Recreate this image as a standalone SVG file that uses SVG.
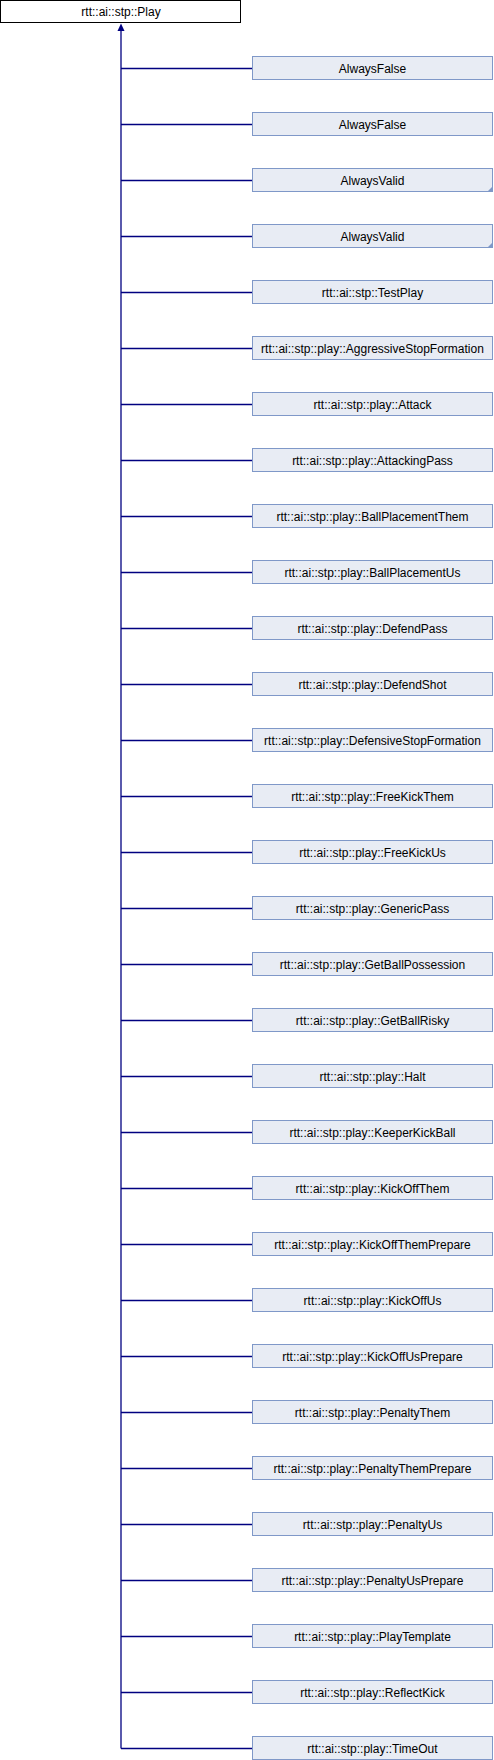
<svg xmlns="http://www.w3.org/2000/svg" width="494" height="1760" viewBox="0 0 494 1760">
<style>
.n rect{fill:#e8ecf4;stroke:#7f98c8;stroke-width:1}
.root rect{fill:#ffffff;stroke:#000000;stroke-width:1}
text{font-family:"Liberation Sans",Arial,sans-serif;font-size:12px;fill:#000;text-anchor:middle}
.e{fill:none;stroke:#000080;stroke-width:1.3}
.fold{fill:#7f98c8}
</style>
<rect width="494" height="1760" fill="#ffffff"/>
<g id="connectors">
<path class="e" d="M121,30 V1748.5"/>
<polygon points="121,23.5 117.5,31 124.5,31" fill="#000080"/>
<path class="e" d="M121,68.5H252 M121,124.5H252 M121,180.5H252 M121,236.5H252 M121,292.5H252 M121,348.5H252 M121,404.5H252 M121,460.5H252 M121,516.5H252 M121,572.5H252 M121,628.5H252 M121,684.5H252 M121,740.5H252 M121,796.5H252 M121,852.5H252 M121,908.5H252 M121,964.5H252 M121,1020.5H252 M121,1076.5H252 M121,1132.5H252 M121,1188.5H252 M121,1244.5H252 M121,1300.5H252 M121,1356.5H252 M121,1412.5H252 M121,1468.5H252 M121,1524.5H252 M121,1580.5H252 M121,1636.5H252 M121,1692.5H252 M121,1748.5H252"/>
</g>
<g id="Play" class="root"><rect x="0.5" y="0.5" width="240" height="22"/><text x="121" y="16">rtt::ai::stp::Play</text></g>
<g id="AlwaysFalse1" class="n"><rect x="252.5" y="56.5" width="240" height="23"/><text x="372.5" y="72.5">AlwaysFalse</text></g>
<g id="AlwaysFalse2" class="n"><rect x="252.5" y="112.5" width="240" height="23"/><text x="372.5" y="128.5">AlwaysFalse</text></g>
<g id="AlwaysValid1" class="n"><rect x="252.5" y="168.5" width="240" height="23"/><polygon class="fold" points="492.5,186.5 492.5,191.5 487.5,191.5"/><text x="372.5" y="184.5">AlwaysValid</text></g>
<g id="AlwaysValid2" class="n"><rect x="252.5" y="224.5" width="240" height="23"/><polygon class="fold" points="492.5,242.5 492.5,247.5 487.5,247.5"/><text x="372.5" y="240.5">AlwaysValid</text></g>
<g id="TestPlay" class="n"><rect x="252.5" y="280.5" width="240" height="23"/><text x="372.5" y="296.5">rtt::ai::stp::TestPlay</text></g>
<g id="AggressiveStopFormation" class="n"><rect x="252.5" y="336.5" width="240" height="23"/><text x="372.5" y="352.5">rtt::ai::stp::play::AggressiveStopFormation</text></g>
<g id="Attack" class="n"><rect x="252.5" y="392.5" width="240" height="23"/><text x="372.5" y="408.5">rtt::ai::stp::play::Attack</text></g>
<g id="AttackingPass" class="n"><rect x="252.5" y="448.5" width="240" height="23"/><text x="372.5" y="464.5">rtt::ai::stp::play::AttackingPass</text></g>
<g id="BallPlacementThem" class="n"><rect x="252.5" y="504.5" width="240" height="23"/><text x="372.5" y="520.5">rtt::ai::stp::play::BallPlacementThem</text></g>
<g id="BallPlacementUs" class="n"><rect x="252.5" y="560.5" width="240" height="23"/><text x="372.5" y="576.5">rtt::ai::stp::play::BallPlacementUs</text></g>
<g id="DefendPass" class="n"><rect x="252.5" y="616.5" width="240" height="23"/><text x="372.5" y="632.5">rtt::ai::stp::play::DefendPass</text></g>
<g id="DefendShot" class="n"><rect x="252.5" y="672.5" width="240" height="23"/><text x="372.5" y="688.5">rtt::ai::stp::play::DefendShot</text></g>
<g id="DefensiveStopFormation" class="n"><rect x="252.5" y="728.5" width="240" height="23"/><text x="372.5" y="744.5">rtt::ai::stp::play::DefensiveStopFormation</text></g>
<g id="FreeKickThem" class="n"><rect x="252.5" y="784.5" width="240" height="23"/><text x="372.5" y="800.5">rtt::ai::stp::play::FreeKickThem</text></g>
<g id="FreeKickUs" class="n"><rect x="252.5" y="840.5" width="240" height="23"/><text x="372.5" y="856.5">rtt::ai::stp::play::FreeKickUs</text></g>
<g id="GenericPass" class="n"><rect x="252.5" y="896.5" width="240" height="23"/><text x="372.5" y="912.5">rtt::ai::stp::play::GenericPass</text></g>
<g id="GetBallPossession" class="n"><rect x="252.5" y="952.5" width="240" height="23"/><text x="372.5" y="968.5">rtt::ai::stp::play::GetBallPossession</text></g>
<g id="GetBallRisky" class="n"><rect x="252.5" y="1008.5" width="240" height="23"/><text x="372.5" y="1024.5">rtt::ai::stp::play::GetBallRisky</text></g>
<g id="Halt" class="n"><rect x="252.5" y="1064.5" width="240" height="23"/><text x="372.5" y="1080.5">rtt::ai::stp::play::Halt</text></g>
<g id="KeeperKickBall" class="n"><rect x="252.5" y="1120.5" width="240" height="23"/><text x="372.5" y="1136.5">rtt::ai::stp::play::KeeperKickBall</text></g>
<g id="KickOffThem" class="n"><rect x="252.5" y="1176.5" width="240" height="23"/><text x="372.5" y="1192.5">rtt::ai::stp::play::KickOffThem</text></g>
<g id="KickOffThemPrepare" class="n"><rect x="252.5" y="1232.5" width="240" height="23"/><text x="372.5" y="1248.5">rtt::ai::stp::play::KickOffThemPrepare</text></g>
<g id="KickOffUs" class="n"><rect x="252.5" y="1288.5" width="240" height="23"/><text x="372.5" y="1304.5">rtt::ai::stp::play::KickOffUs</text></g>
<g id="KickOffUsPrepare" class="n"><rect x="252.5" y="1344.5" width="240" height="23"/><text x="372.5" y="1360.5">rtt::ai::stp::play::KickOffUsPrepare</text></g>
<g id="PenaltyThem" class="n"><rect x="252.5" y="1400.5" width="240" height="23"/><text x="372.5" y="1416.5">rtt::ai::stp::play::PenaltyThem</text></g>
<g id="PenaltyThemPrepare" class="n"><rect x="252.5" y="1456.5" width="240" height="23"/><text x="372.5" y="1472.5">rtt::ai::stp::play::PenaltyThemPrepare</text></g>
<g id="PenaltyUs" class="n"><rect x="252.5" y="1512.5" width="240" height="23"/><text x="372.5" y="1528.5">rtt::ai::stp::play::PenaltyUs</text></g>
<g id="PenaltyUsPrepare" class="n"><rect x="252.5" y="1568.5" width="240" height="23"/><text x="372.5" y="1584.5">rtt::ai::stp::play::PenaltyUsPrepare</text></g>
<g id="PlayTemplate" class="n"><rect x="252.5" y="1624.5" width="240" height="23"/><text x="372.5" y="1640.5">rtt::ai::stp::play::PlayTemplate</text></g>
<g id="ReflectKick" class="n"><rect x="252.5" y="1680.5" width="240" height="23"/><text x="372.5" y="1696.5">rtt::ai::stp::play::ReflectKick</text></g>
<g id="TimeOut" class="n"><rect x="252.5" y="1736.5" width="240" height="23"/><text x="372.5" y="1752.5">rtt::ai::stp::play::TimeOut</text></g>
</svg>
